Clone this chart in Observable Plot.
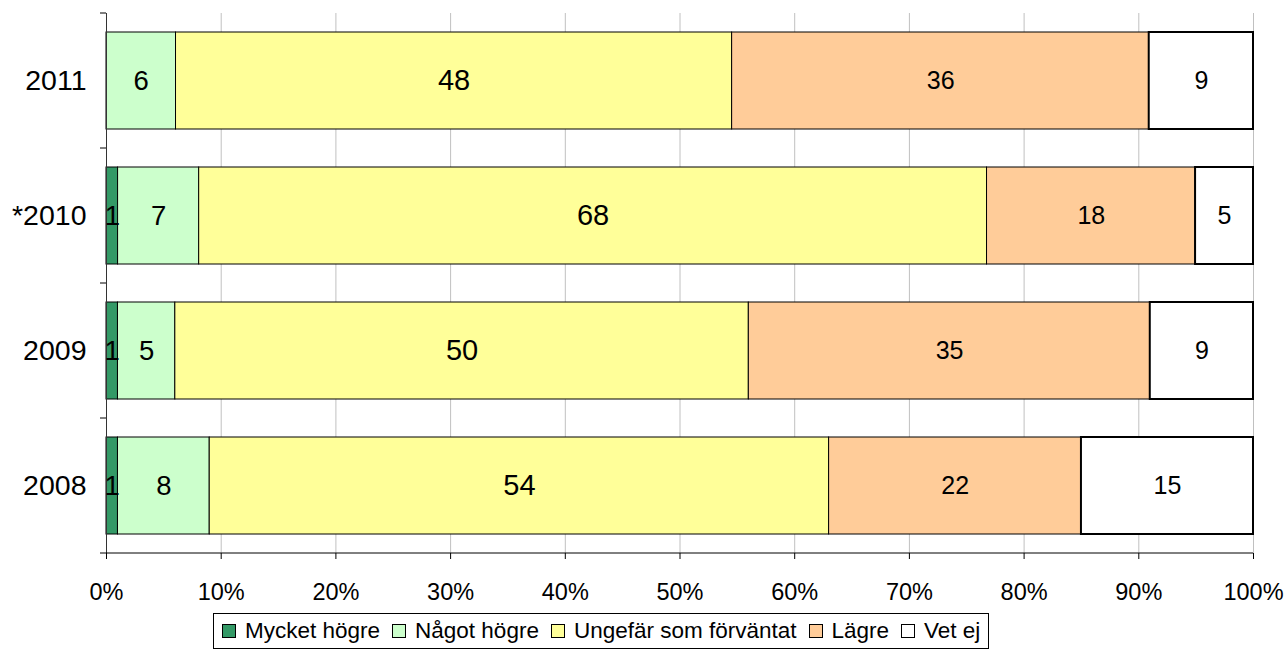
<!DOCTYPE html>
<html><head><meta charset="utf-8">
<script src="https://cdn.jsdelivr.net/npm/d3@7"></script>
<script src="https://cdn.jsdelivr.net/npm/@observablehq/plot@0.6"></script>
<style>
body{margin:0;background:#fff;font-family:"Liberation Sans",Arial,sans-serif;}
#wrap{position:relative;width:1288px;height:650px;overflow:hidden;}
#legend{position:absolute;left:213px;top:613px;height:36px;border:1px solid #000;display:flex;align-items:center;padding:0 8px;font-size:22.5px;box-sizing:border-box;white-space:nowrap;background:#fff;}
.item{display:flex;align-items:center;margin-right:12px}
.item:last-child{margin-right:0}
.sw{width:12px;height:12px;border:1px solid #000;margin-right:9px}
</style></head><body><div id="wrap"><div id="chart"></div><div id="legend"></div></div>
<script>
const years = ["2011", "*2010", "2009", "2008"];
const series = ["Mycket högre", "Något högre", "Ungefär som förväntat", "Lägre", "Vet ej"];
const colors = ["#339966", "#CCFFCC", "#FFFF99", "#FFCC99", "#FFFFFF"];
const mycket = [0, 1, 1, 1];
const nagot = [6, 7, 5, 8];
const ungefar = [48, 68, 50, 54];
const lagre = [36, 18, 35, 22];
const vetej = [9, 5, 9, 15];
const xTicks = [0, 0.1, 0.2, 0.3, 0.4, 0.5, 0.6, 0.7, 0.8, 0.9, 1];
const gridTicks = [0.1, 0.2, 0.3, 0.4, 0.5, 0.6, 0.7, 0.8, 0.9, 1];

const values = [mycket, nagot, ungefar, lagre, vetej];
const rows = years.flatMap((year, i) => series.map((s, j) => ({year, series: s, value: values[j][i]})));
const greenLabels = ["Mycket högre", "Något högre"];
const yellowLabels = ["Ungefär som förväntat"];
const restLabels = ["Lägre", "Vet ej"];

const stackOpts = {x: "value", y: "year", z: "series", order: series, offset: "normalize"};
const FONT = '"Liberation Sans", Arial, sans-serif';

const boundaryTicks = (index, scales, vals, dims) => {
  const y = scales.y;
  const step = y(years[1]) - y(years[0]);
  const bw = typeof y.bandwidth === "function" ? y.bandwidth() : y.bandwidth;
  const gap = step - bw;
  const bounds = years.map(c => y(c) - gap / 2).concat([y(years[years.length - 1]) + bw + gap / 2]);
  const g = d3.create("svg:g");
  const x0 = dims.marginLeft;
  g.selectAll("line.t").data(bounds).join("line")
    .attr("x1", x0 - 6).attr("x2", x0).attr("y1", d => d).attr("y2", d => d)
    .attr("stroke", "#000");
  const yb = dims.height - dims.marginBottom;
  g.append("line").attr("x1", x0).attr("x2", dims.width - dims.marginRight)
    .attr("y1", yb).attr("y2", yb).attr("stroke", "#000");
  return g.node();
};

const labelMark = (group, size) => Plot.text(rows, Plot.stackX({...stackOpts,
  text: d => group.includes(d.series) && d.value > 0 ? String(d.value) : "",
  fontSize: size, fill: "#000", fontFamily: FONT}));

const chart = Plot.plot({
  width: 1288, height: 605,
  marginTop: 13, marginBottom: 52, marginLeft: 106, marginRight: 35,
  style: {fontFamily: FONT, background: "#fff", color: "#000"},
  x: {domain: [0, 1]},
  y: {domain: years, paddingInner: 0.28, paddingOuter: 0.14},
  color: {domain: series, range: colors},
  marks: [
    Plot.ruleX(gridTicks, {stroke: "#c0c0c0", strokeWidth: 1}),
    Plot.barX(rows, Plot.stackX({...stackOpts, filter: d => d.value > 0, fill: "series", stroke: "#000",
      strokeWidth: d => d.series === "Vet ej" ? 2 : 1})),
    Plot.ruleX([0], {stroke: "#333"}),
    boundaryTicks,
    labelMark(greenLabels, 27.5),
    labelMark(yellowLabels, 29),
    labelMark(restLabels, 25),
    Plot.axisX({ticks: xTicks, tickFormat: d3.format(".0%"), tickSize: 6, tickPadding: 24, fontSize: 23.5, label: null}),
    Plot.axisY({tickSize: 0, tickPadding: 20, fontSize: 28.5, label: null})
  ]
});
document.getElementById("chart").appendChild(chart);

const legend = document.getElementById("legend");
series.forEach((s, i) => {
  const item = document.createElement("div");
  item.className = "item";
  const sw = document.createElement("span");
  sw.className = "sw";
  sw.style.background = colors[i];
  const t = document.createElement("span");
  t.textContent = s;
  item.appendChild(sw);
  item.appendChild(t);
  legend.appendChild(item);
});
</script></body></html>
